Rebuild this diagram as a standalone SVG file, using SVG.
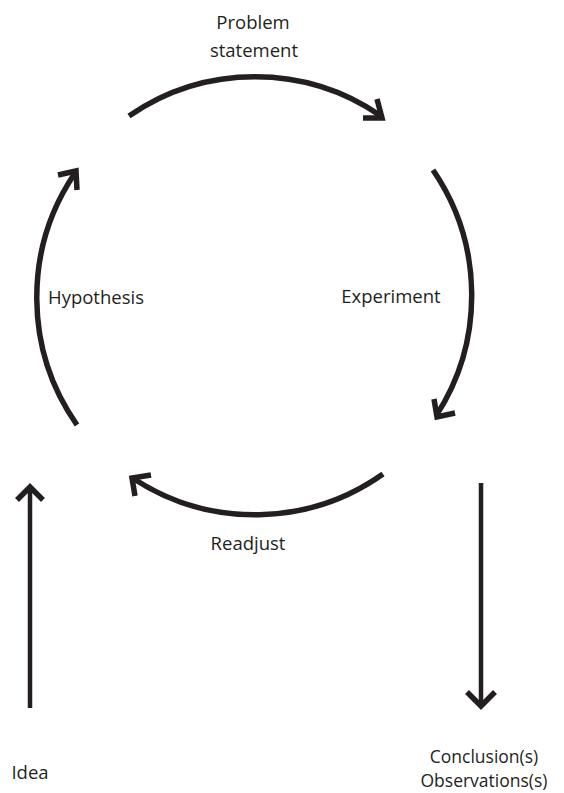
<svg xmlns="http://www.w3.org/2000/svg" width="564" height="793" viewBox="0 0 564 793">
  <style>
    .lbl { font-family: "Open Sans", "Liberation Sans", sans-serif; font-size: 18.5px; fill: #231f20; text-anchor: middle; }
    .small { font-size: 17.5px; }
    .arc { fill: none; stroke: #231f20; stroke-width: 5.5; stroke-linecap: butt; }
    .head { fill: none; stroke: #231f20; stroke-width: 5.5; stroke-linejoin: miter; stroke-miterlimit: 10; }
    .shaft { fill: none; stroke: #231f20; stroke-width: 4.5; }
  </style>
  <rect width="564" height="793" fill="#ffffff"/>

  <g id="connectors">
    <!-- cycle arcs -->
    <g id="arc-problem-experiment">
      <path class="arc" d="M129,116 A222,222 0 0 1 381,116"/>
      <polyline class="head" points="377,99 382,118 363,118"/>
    </g>
    <g id="arc-experiment-readjust">
      <path class="arc" d="M433,170 A222,222 0 0 1 436,416"/>
      <polyline class="head" points="434,399 437,417 455,413"/>
    </g>
    <g id="arc-readjust-hypothesis">
      <path class="arc" d="M383,474 A222,222 0 0 1 134,479"/>
      <polyline class="head" points="151,475 132,478 135,496"/>
    </g>
    <g id="arc-hypothesis-problem">
      <path class="arc" d="M77,425 A222,222 0 0 1 75,173"/>
      <polyline class="head" points="58,175 76,171 77,190"/>
    </g>
    <!-- entry and exit arrows -->
    <g id="arrow-idea">
      <line class="shaft" x1="30" y1="708" x2="30" y2="487"/>
      <polyline class="head" stroke-width="4.5" points="17,500 30,487 43,500"/>
    </g>
    <g id="arrow-conclusion">
      <line class="shaft" x1="481" y1="483" x2="481" y2="705"/>
      <polyline class="head" stroke-width="4.5" points="467,692 481,706 495,692"/>
    </g>
  </g>

  <g id="node-problem">
    <text class="lbl" x="253" y="29">Problem</text>
    <text class="lbl" x="254" y="57">statement</text>
  </g>
  <g id="node-experiment">
    <text class="lbl" x="391" y="303">Experiment</text>
  </g>
  <g id="node-readjust">
    <text class="lbl" x="248" y="550">Readjust</text>
  </g>
  <g id="node-hypothesis">
    <text class="lbl" x="96" y="304">Hypothesis</text>
  </g>
  <g id="node-idea">
    <text class="lbl" x="30" y="779">Idea</text>
  </g>
  <g id="node-conclusion">
    <text class="lbl small" x="484" y="763">Conclusion(s)</text>
    <text class="lbl small" x="484" y="787">Observations(s)</text>
  </g>
</svg>
